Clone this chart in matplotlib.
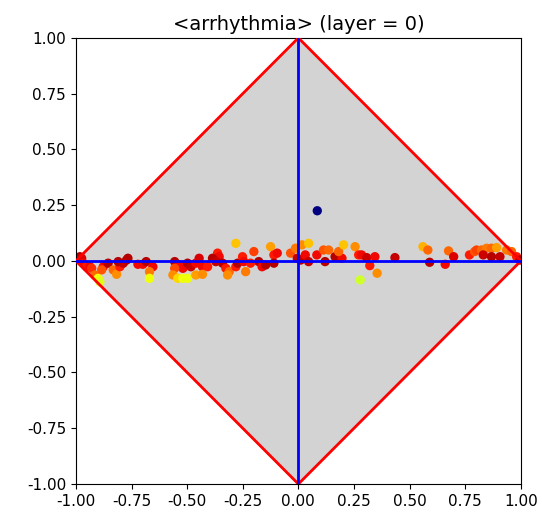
import matplotlib
matplotlib.use("Agg")
import matplotlib.pyplot as plt
import numpy as np

# Embedded coordinates of the nodes (x, y) and their colour value
xs = [-0.982, -0.974, -0.967, -0.952, -0.937, -0.929, -0.915, -0.900, -0.892, -0.877,
      -0.884, -0.855, -0.832, -0.817, -0.802, -0.810, -0.787, -0.772,
      -0.766, -0.721, -0.699, -0.684, -0.654, -0.669, -0.669, -0.556, -0.534, -0.519,
      -0.556, -0.564, -0.542, -0.519,
      -0.498, -0.483, -0.461, -0.446, -0.431, -0.408, -0.363, -0.356, -0.341, -0.326,
      -0.311, -0.318, -0.281, -0.273, -0.251, -0.281, -0.498, -0.461, -0.431, -0.386, -0.371,
      -0.245, -0.237, -0.200, -0.178, -0.163, -0.147, -0.125, -0.110, -0.095, -0.110,
      -0.035, -0.005, -0.013, 0.010, -0.215,
      0.016, 0.046, 0.031, 0.046, 0.083, 0.113, 0.136, 0.120, 0.165, 0.196, 0.181, 0.203,
      0.255, 0.271, 0.278,
      0.284, 0.307, 0.344, 0.321, 0.354, 0.434,
      0.560, 0.582, 0.590, 0.660, 0.675, 0.698, 0.769, 0.792,
      0.801, 0.823, 0.846, 0.868, 0.891, 0.936, 0.958, 0.831, 0.868, 0.906, 0.981, 0.996,
      0.085]
ys = [0.019, 0.012, -0.010, -0.026, -0.026, -0.033, -0.063, -0.078, -0.094, -0.026,
      -0.040, -0.010, -0.040, -0.060, -0.026, -0.003, -0.010, 0.004,
      0.012, -0.015, -0.015, -0.003, -0.026, -0.048, -0.078, -0.003, -0.018, -0.033,
      -0.033, -0.063, -0.078, -0.078,
      -0.010, -0.026, -0.010, 0.012, -0.026, -0.026, 0.035, 0.019, -0.010, -0.033,
      -0.048, -0.063, -0.026, -0.010, 0.019, 0.079, -0.078, -0.063, -0.060, 0.012, -0.003,
      -0.003, -0.048, 0.042, -0.003, -0.026, -0.018, 0.064, 0.027, 0.035, -0.010,
      0.035, 0.012, 0.057, 0.004, -0.010,
      0.072, 0.079, 0.027, -0.003, 0.027, 0.049, 0.049, -0.003, 0.019, 0.012, 0.042, 0.072,
      0.064, 0.027, -0.085,
      0.027, 0.015, 0.019, -0.021, -0.055, 0.015,
      0.064, 0.049, -0.006, -0.015, 0.045, 0.019, 0.027, 0.042,
      0.049, 0.049, 0.057, 0.057, 0.060, 0.049, 0.042, 0.027, 0.019, 0.019, 0.019, 0.004,
      0.225]
cs = [0.95, 0.92, 0.90, 0.88, 0.90, 0.86, 0.80, 0.64, 0.62, 0.90,
      0.82, 0.95, 0.80, 0.76, 0.88, 0.95, 0.94, 0.95,
      0.95, 0.90, 0.90, 0.95, 0.90, 0.78, 0.64, 0.95, 0.90, 0.90,
      0.83, 0.76, 0.68, 0.64,
      0.95, 0.94, 0.90, 0.92, 0.90, 0.88, 0.88, 0.90, 0.95, 0.88,
      0.80, 0.76, 0.88, 0.95, 0.88, 0.70, 0.64, 0.74, 0.76, 0.95, 0.94,
      0.90, 0.78, 0.84, 0.95, 0.90, 0.95, 0.74, 0.88, 0.90, 0.95,
      0.82, 0.94, 0.78, 0.95, 0.88,
      0.76, 0.70, 0.90, 0.94, 0.90, 0.82, 0.80, 0.95, 0.95, 0.90, 0.80, 0.70,
      0.76, 0.88, 0.60,
      0.90, 0.93, 0.90, 0.88, 0.76, 0.94,
      0.72, 0.80, 0.95, 0.90, 0.80, 0.92, 0.88, 0.82,
      0.84, 0.80, 0.78, 0.80, 0.74, 0.78, 0.80, 0.93, 0.95, 0.94, 0.88, 0.95,
      0.00]

# Boundary of the unit L1 ball
diamond_x = [1.0, 0.0, -1.0, 0.0, 1.0]
diamond_y = [0.0, 1.0, 0.0, -1.0, 0.0]
ticks = [-1.00, -0.75, -0.50, -0.25, 0.00, 0.25, 0.50, 0.75, 1.00]

fig = plt.figure(figsize=(5.42, 5.12), dpi=100)
ax = fig.add_axes([0.140, 0.0547, 0.821, 0.8713])

ax.fill(diamond_x, diamond_y, color="lightgrey", zorder=1)
ax.scatter(xs, ys, c=cs, cmap="jet", vmin=0.0, vmax=1.0, s=45, linewidths=0, zorder=2)
ax.plot(diamond_x, diamond_y, color="red", linewidth=2, zorder=3)
ax.plot([-1, 1], [0, 0], color="blue", linewidth=2, zorder=3)
ax.plot([0, 0], [-1, 1], color="blue", linewidth=2, zorder=3)

ax.set_xlim(-1, 1)
ax.set_ylim(-1, 1)
ax.set_xticks(ticks)
ax.set_yticks(ticks)
ax.set_xticklabels([f"{t:.2f}" for t in ticks])
ax.set_yticklabels([f"{t:.2f}" for t in ticks])
ax.tick_params(labelsize=11)
ax.set_title("<arrhythmia> (layer = 0)", fontsize=14)

fig.savefig("out.png", dpi=100)
